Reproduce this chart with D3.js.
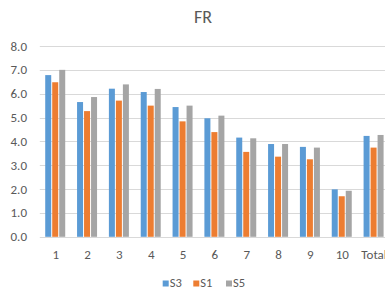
<!DOCTYPE html>
<html>
  <head>
    <meta charset='utf-8' />
    <title>FR</title>
    <style>
      body { margin: 0; background: white; }
      svg { display: block; font-family: Calibri, Carlito, "Liberation Sans", "DejaVu Sans", sans-serif; }
    </style>
  </head>
<body>
  <svg id="chart" width="385" height="295"></svg>
  <script src="https://d3js.org/d3.v7.min.js"></script>
  <script>
    const categories = ["1", "2", "3", "4", "5", "6", "7", "8", "9", "10", "Total"];
    const seriesNames = ["S3", "S1", "S5"];
    const s3 = [6.78, 5.65, 6.21, 6.07, 5.44, 4.97, 4.16, 3.89, 3.77, 1.99, 4.23];
    const s1 = [6.48, 5.27, 5.71, 5.50, 4.84, 4.39, 3.56, 3.36, 3.25, 1.70, 3.74];
    const s5 = [7.00, 5.86, 6.39, 6.20, 5.50, 5.08, 4.13, 3.89, 3.74, 1.93, 4.27];
    const yTicks = [0, 1, 2, 3, 4, 5, 6, 7, 8];
    const colors = ["#5B9BD5", "#ED7D31", "#A5A5A5"];

    const svg = d3.select("#chart");
    const plotLeft = 39.8, plotRight = 390, plotTop = 46, plotBottom = 236.8;

    const x = d3.scaleBand().domain(categories).range([plotLeft, plotRight]).padding(0);
    const x1 = d3.scaleBand().domain(seriesNames).range([0, 21]);
    const y = d3.scaleLinear().domain([0, 8]).range([plotBottom, plotTop]);

    // gridlines
    svg.append("g")
      .selectAll("line")
      .data(yTicks)
      .enter()
      .append("line")
      .attr("x1", plotLeft)
      .attr("x2", 385)
      .attr("y1", d => Math.round(y(d)) + 0.5)
      .attr("y2", d => Math.round(y(d)) + 0.5)
      .attr("stroke", "#D9D9D9")
      .attr("stroke-width", 1);

    // y labels
    svg.append("g")
      .selectAll("text")
      .data(yTicks)
      .enter()
      .append("text")
      .attr("x", 27)
      .attr("y", d => y(d) + 4.5)
      .attr("text-anchor", "end")
      .attr("font-size", "13px")
      .attr("fill", "#595959")
      .text(d => d.toFixed(1));

    const data = categories.map((c, i) => ({ cat: c, vals: [s3[i], s1[i], s5[i]] }));

    const groups = svg.append("g")
      .selectAll("g")
      .data(data)
      .enter()
      .append("g")
      .attr("transform", d => "translate(" + (x(d.cat) + x.bandwidth() / 2 - 10.5) + ",0)");

    groups.selectAll("rect")
      .data(d => d.vals.map((v, j) => ({ name: seriesNames[j], v: v, j: j })))
      .enter()
      .append("rect")
      .attr("x", d => x1(d.name))
      .attr("width", 6)
      .attr("y", d => y(d.v))
      .attr("height", d => plotBottom - y(d.v))
      .attr("fill", d => colors[d.j]);

    // x labels
    svg.append("g")
      .selectAll("text")
      .data(categories)
      .enter()
      .append("text")
      .attr("x", d => x(d) + x.bandwidth() / 2)
      .attr("y", 258.5)
      .attr("text-anchor", "middle")
      .attr("font-size", "13px")
      .attr("fill", "#595959")
      .text(d => d);

    // title
    svg.append("text")
      .attr("x", 203)
      .attr("y", 23)
      .attr("text-anchor", "middle")
      .attr("font-size", "18px")
      .attr("fill", "#595959")
      .text("FR");

    // legend
    const legendX = [162.7, 193.3, 226];
    const legend = svg.append("g")
      .selectAll("g")
      .data(seriesNames)
      .enter()
      .append("g")
      .attr("transform", (d, i) => "translate(" + legendX[i] + ",280.5)");
    legend.append("rect")
      .attr("width", 6)
      .attr("height", 6)
      .attr("fill", (d, i) => colors[i]);
    legend.append("text")
      .attr("x", 7)
      .attr("y", 6.3)
      .attr("font-size", "12.5px")
      .attr("fill", "#595959")
      .text(d => d);
  </script>
</body>
</html>
